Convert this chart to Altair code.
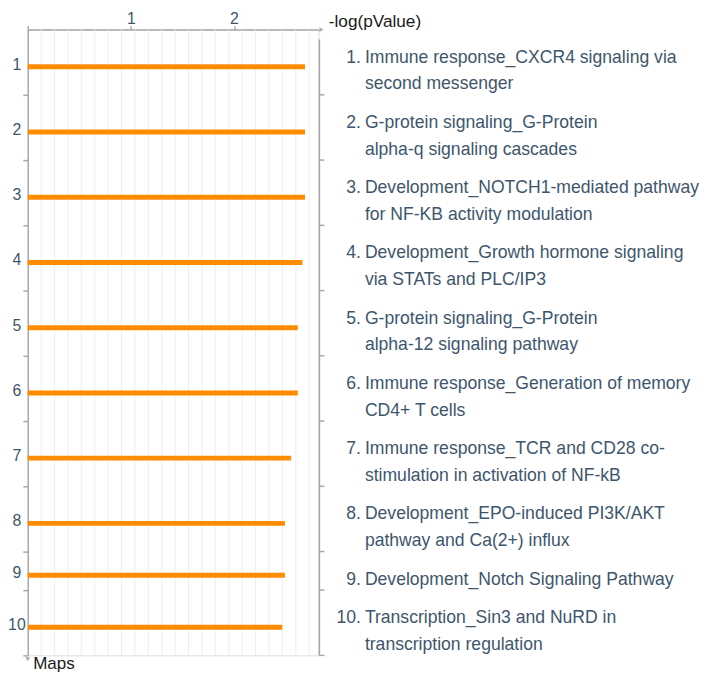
import altair as alt
import pandas as pd

# ---------------- data ----------------
numbers = list(range(1, 11))
label_lines = [
    ["Immune response_CXCR4 signaling via", "second messenger"],
    ["G-protein signaling_G-Protein", "alpha-q signaling cascades"],
    ["Development_NOTCH1-mediated pathway", "for NF-KB activity modulation"],
    ["Development_Growth hormone signaling", "via STATs and PLC/IP3"],
    ["G-protein signaling_G-Protein", "alpha-12 signaling pathway"],
    ["Immune response_Generation of memory", "CD4+ T cells"],
    ["Immune response_TCR and CD28 co-", "stimulation in activation of NF-kB"],
    ["Development_EPO-induced PI3K/AKT", "pathway and Ca(2+) influx"],
    ["Development_Notch Signaling Pathway"],
    ["Transcription_Sin3 and NuRD in", "transcription regulation"],
]
values = [2.69, 2.69, 2.69, 2.665, 2.62, 2.62, 2.555, 2.495, 2.495, 2.47]
x_tick_values = [0, 1, 2]
grid_x = [0.13, 0.26, 0.39, 0.52, 0.65, 0.78, 0.91, 1.04, 1.17, 1.30, 1.43,
          1.56, 1.69, 1.82, 1.95, 2.08, 2.21, 2.34, 2.47, 2.60, 2.73]
x_title = "-log(pValue)"
y_title = "Maps"

# ---------------- style ----------------
ORANGE = "#ff8c00"
SLATE = "#3e566d"
AXIS_GRAY = "#a8a8a8"
GRID = "#eeeeee"
FONT = "Liberation Sans"
W = 294
ROW_PAD = 12      # row height = ROW_PAD + LINE_H * n_lines
LINE_H = 27
X_MAX = 2.82
TXT = 17.8

# ---------------- layout tables (y in row units through the y scale) ----------------
rows = []
top = 0.0
for n, lines, v in zip(numbers, label_lines, values):
    h = ROW_PAD + LINE_H * len(lines)
    rows.append({"num": str(n), "value": v, "zero": 0.0, "top": top,
                 "bottom": top + h, "bar_y": top + h / 2 + 4.5})
    top += h
H = top
rows_df = pd.DataFrame(rows)

text_rows = []
for r, lines in zip(rows, label_lines):
    for k, line in enumerate(lines):
        text_rows.append({"y": r["top"] + 33.5 + LINE_H * k,
                          "numlabel": (r["num"] + ".") if k == 0 else "",
                          "line": line})
text_df = pd.DataFrame(text_rows)
bounds = [r["bottom"] for r in rows]
bounds_df = pd.DataFrame({"b": bounds})
grid_df = pd.DataFrame({"gx": grid_x})
one = pd.DataFrame({"a": [0]})

xs = alt.Scale(domain=[0, X_MAX], nice=False, zero=False)
ys = alt.Scale(domain=[0, H], nice=False, zero=False, reverse=True)

x_axis = alt.Axis(orient="top", values=x_tick_values, grid=False,
                  labelExpr="datum.value == 0 ? '' : datum.label",
                  tickSize=4, labelPadding=-1, labelFontSize=16,
                  labelColor=SLATE, labelFont=FONT,
                  domainColor=AXIS_GRAY, tickColor=AXIS_GRAY,
                  domainWidth=1.5, tickWidth=1.5,
                  title=x_title, titleX=W + 10, titleY=-3,
                  titleAlign="left", titleBaseline="alphabetic", titleAngle=0,
                  titleFontSize=17.4, titleFontWeight="normal",
                  titleColor="#1a1a1a", titleFont=FONT)
y_axis = alt.Axis(orient="left", values=bounds, labels=False,
                  grid=False, tickSize=5, domainColor=AXIS_GRAY,
                  tickColor=AXIS_GRAY, domainWidth=1.5, tickWidth=1.5,
                  title=y_title, titleAngle=0, titleX=5, titleY=H + 13,
                  titleAlign="left", titleBaseline="alphabetic",
                  titleFontSize=17.2, titleFontWeight="normal",
                  titleColor="#1a1a1a", titleFont=FONT)

grid = alt.Chart(grid_df).mark_rule(color=GRID, strokeWidth=1).encode(
    x=alt.X("gx:Q", scale=xs, axis=x_axis),
    y=alt.value(0), y2=alt.value(H),
)

bars = alt.Chart(rows_df).mark_rule(color=ORANGE, strokeWidth=5, strokeCap="butt").encode(
    x=alt.X("value:Q", scale=xs, axis=x_axis),
    x2="zero:Q",
    y=alt.Y("bar_y:Q", scale=ys, axis=y_axis),
)

left_labels = alt.Chart(rows_df).mark_text(
    align="center", baseline="middle", fontSize=16, color=SLATE, font=FONT, dy=-2
).encode(x=alt.value(-11), y=alt.Y("bar_y:Q", scale=ys, axis=y_axis), text="num:N")

right_axis = alt.Chart(one).mark_rule(color=AXIS_GRAY, strokeWidth=1.5).encode(
    x=alt.value(W + 1), y=alt.value(10), y2=alt.value(H))
right_ticks = alt.Chart(bounds_df).mark_rule(color=AXIS_GRAY, strokeWidth=1.5).encode(
    x=alt.value(W + 1), x2=alt.value(W + 6), y=alt.Y("b:Q", scale=ys, axis=y_axis))

num_text = alt.Chart(text_df).mark_text(
    align="right", baseline="alphabetic", fontSize=TXT, color=SLATE, font=FONT
).encode(x=alt.value(W + 43), y=alt.Y("y:Q", scale=ys, axis=y_axis), text="numlabel:N")
line_text = alt.Chart(text_df).mark_text(
    align="left", baseline="alphabetic", fontSize=TXT, color=SLATE, font=FONT
).encode(x=alt.value(W + 47), y=alt.Y("y:Q", scale=ys, axis=y_axis), text="line:N")

arrow_top = alt.Chart(one).mark_point(shape="triangle-right", filled=True, size=22,
                                      color=AXIS_GRAY, opacity=1).encode(
    x=alt.value(W + 3), y=alt.value(0))
arrow_left = alt.Chart(one).mark_point(shape="triangle-down", filled=True, size=22,
                                       color=AXIS_GRAY, opacity=1).encode(
    x=alt.value(0), y=alt.value(H + 4))

chart = alt.layer(
    grid, bars, left_labels, right_axis, right_ticks, num_text, line_text,
    arrow_top, arrow_left
).properties(
    width=W, height=H,
    autosize=alt.AutoSizeParams(type="none"),
    padding={"left": 20, "top": 18, "right": 387, "bottom": 16},
).configure_view(stroke=None).configure(background="white")

chart.save("out.html", embed_options={"renderer": "svg", "actions": False})
